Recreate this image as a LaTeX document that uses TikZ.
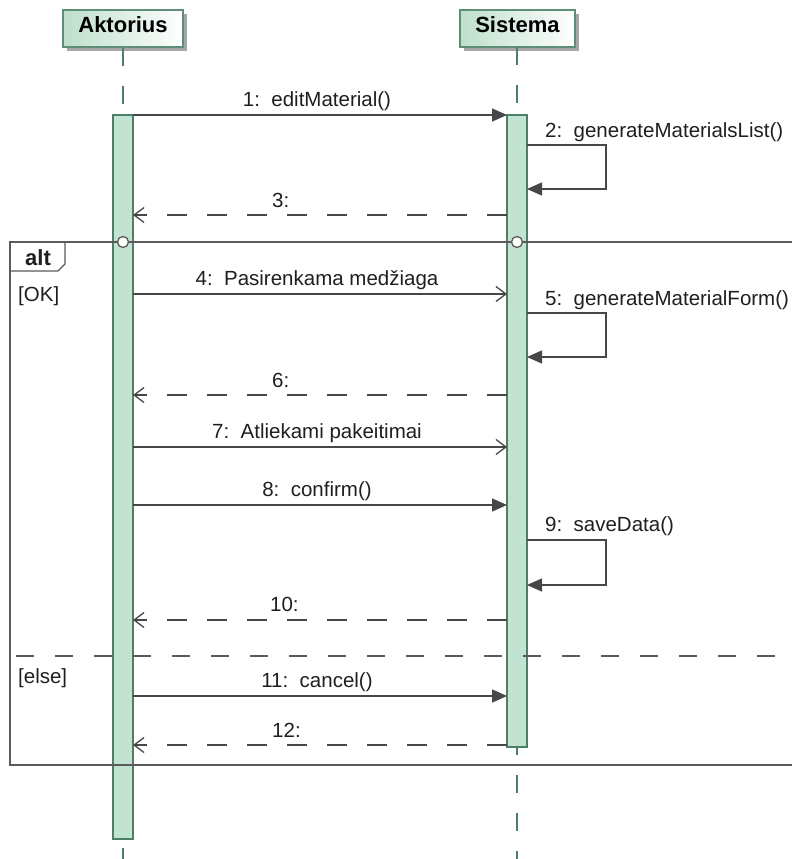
\documentclass[tikz,border=0pt]{standalone}
\usepackage{fontspec}
\setmainfont{Liberation Sans}
\usetikzlibrary{arrows.meta,shadows}
\definecolor{actfill}{HTML}{C3E3D2}
\definecolor{actdraw}{HTML}{4D7E66}
\definecolor{hdrdraw}{HTML}{5E8E77}
\definecolor{hdrfill}{HTML}{BDDFCB}
\definecolor{msgc}{HTML}{474747}
\definecolor{frmc}{HTML}{5A5A5A}
\frenchspacing
\begin{document}
\begin{tikzpicture}[x=1pt,y=-1pt,
  lbl/.style={font=\fontsize{20.5}{24}\selectfont, text=black!88, inner sep=0pt},
  hdr/.style={draw=hdrdraw, line width=1.5pt, left color=hdrfill, right color=white,
    minimum height=37pt, inner sep=0pt, text height=15pt, text depth=6pt,
    font=\fontsize{22}{26}\selectfont\bfseries,
    drop shadow={shadow xshift=4pt, shadow yshift=-4pt, fill=black!35, opacity=1}},
  actbar/.style={draw=actdraw, fill=actfill, line width=1.5pt, minimum width=20pt, inner sep=0pt},
  life/.style={draw=actdraw, line width=1.5pt, dash pattern=on 18pt off 20pt},
  msgline/.style={draw=msgc, line width=1.5pt},
  callarrow/.style={msgline, -{Triangle[length=15pt,width=13pt]}},
  openarrow/.style={msgline, -{Straight Barb[length=10pt,width=15pt,line width=1.3pt]}},
  retarrow/.style={msgline, dash pattern=on 20pt off 20pt, -{Straight Barb[length=10pt,width=15pt,line width=1.3pt]}},
  selfloop/.style={callarrow},
  frameline/.style={draw=frmc, line width=1.6pt},
  circ/.style={circle, draw=frmc, fill=white, line width=1.3pt, minimum size=11pt, inner sep=0pt}
]
\useasboundingbox (0,0) rectangle (792,859);

% headers
\node[hdr, minimum width=120pt] (hA) at (123,28.5) {Aktorius};
\node[hdr, minimum width=115pt] (hS) at (517.5,28.5) {Sistema};

\coordinate (lA) at (123,859);
\coordinate (lS) at (517,859);

% lifelines
\draw[life] (hA.south) -- (123,115);
\draw[life] (517,47) -- (517,115);
\draw[life, dash phase=10pt] (517,747) -- (lS);
\draw[life, dash phase=29pt] (123,839) -- (lA);

% activation bars
\node[actbar, minimum height=724pt] (barA) at (123,477) {};
\node[actbar, minimum height=632pt] (barS) at (517,431) {};

% combined fragment
\coordinate (fTR) at (792,242);
\coordinate (fTL) at (10,242);
\coordinate (fBL) at (10,765);
\coordinate (fBR) at (792,765);
\draw[frameline] (fTR) -- (fTL) -- (fBL) -- (fBR);
\coordinate (t1) at (65,242);
\coordinate (t2) at (65,264);
\coordinate (t3) at (58,271);
\coordinate (t4) at (10,271);
\draw[frameline, line width=1.3pt] (t1) -- (t2) -- (t3) -- (t4);
\node[lbl, font=\fontsize{22}{26}\selectfont\bfseries, anchor=base] (alt) at (38,265) {alt};
\coordinate (eL) at (10,656);
\coordinate (eR) at (792,656);
\draw[frameline, dash pattern=on 18pt off 21pt, dash phase=33pt] (eL) -- (eR);
\node[circ] (cA) at (123,242) {};
\node[circ] (cS) at (517,242) {};
\node[lbl, anchor=base west] (gOK) at (18,301) {[OK]};
\node[lbl, anchor=base west] (gElse) at (18,683) {[else]};

% message endpoints
\foreach \n/\y in {1/115,3/215,4/294,6/395,7/447,8/505,10/620,11/696,12/745}{
  \coordinate (a\n) at (133,\y);
  \coordinate (s\n) at (507,\y);
}
\foreach \n/\ya/\yb in {2/145/189,5/313/357,9/540/585}{
  \coordinate (p\n a) at (527,\ya);
  \coordinate (p\n b) at (606,\ya);
  \coordinate (p\n c) at (606,\yb);
  \coordinate (p\n d) at (527,\yb);
}

% messages
\draw[callarrow] (a1) -- (s1);
\node[lbl, anchor=base] (m1) at (317,106) {1:~~editMaterial()};
\draw[selfloop] (p2a) -- (p2b) -- (p2c) -- (p2d);
\node[lbl, anchor=base west] (m2) at (545,137) {2:~~generateMaterialsList()};
\draw[retarrow] (s3) -- (a3);
\node[lbl, anchor=base west] (m3) at (272,207) {3:};
\draw[openarrow] (a4) -- (s4);
\node[lbl, anchor=base] (m4) at (317,285) {4:~~Pasirenkama medžiaga};
\draw[selfloop] (p5a) -- (p5b) -- (p5c) -- (p5d);
\node[lbl, anchor=base west] (m5) at (545,305) {5:~~generateMaterialForm()};
\draw[retarrow] (s6) -- (a6);
\node[lbl, anchor=base west] (m6) at (272,387) {6:};
\draw[openarrow] (a7) -- (s7);
\node[lbl, anchor=base] (m7) at (317,438) {7:~~Atliekami pakeitimai};
\draw[callarrow] (a8) -- (s8);
\node[lbl, anchor=base] (m8) at (317,496) {8:~~confirm()};
\draw[selfloop] (p9a) -- (p9b) -- (p9c) -- (p9d);
\node[lbl, anchor=base west] (m9) at (545,531) {9:~~saveData()};
\draw[retarrow] (s10) -- (a10);
\node[lbl, anchor=base west] (m10) at (270,611) {10:};
\draw[callarrow] (a11) -- (s11);
\node[lbl, anchor=base] (m11) at (317,687) {11:~~cancel()};
\draw[retarrow] (s12) -- (a12);
\node[lbl, anchor=base west] (m12) at (272,737) {12:};
\end{tikzpicture}
\end{document}
